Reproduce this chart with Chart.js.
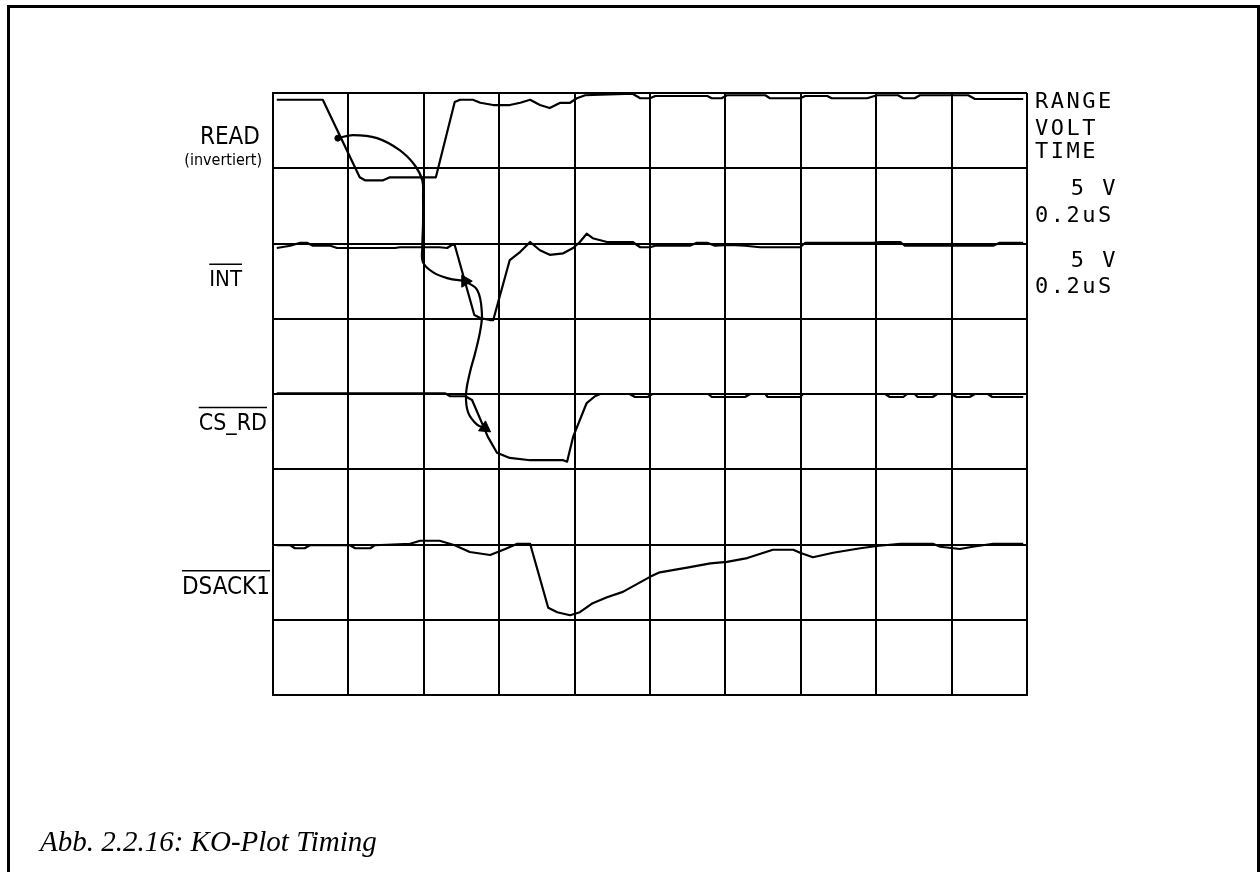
<!DOCTYPE html>
<html>
<head>
<meta charset="utf-8">
<script src="https://cdn.jsdelivr.net/npm/chart.js@4.4.1/dist/chart.umd.min.js"></script>
<style>
  html, body { margin: 0; padding: 0; background: #fff; }
  #wrap { position: relative; width: 1260px; height: 872px; overflow: hidden; }
  #frame {
    position: absolute; left: 7px; top: 5px; width: 1247px; height: 900px;
    border-left: 3px solid #000; border-top: 3px solid #000; border-right: 3px solid #000;
    pointer-events: none;
  }
</style>
</head>
<body>
<div id="wrap">
  <canvas id="scopeChart" width="1260" height="872"></canvas>
  <div id="frame"></div>
</div>
<script>
// grid: 10 x 8 divisions, values in divisions
const readX = [0.05, 0.66, 1.15, 1.22, 1.46, 1.55, 2.16, 2.41, 2.48, 2.65, 2.75, 2.92, 3.14, 3.28, 3.41, 3.54, 3.67, 3.81, 3.94, 4.03, 4.14, 4.77, 4.87, 5.00, 5.07, 5.76, 5.82, 5.95, 6.02, 6.53, 6.59, 6.99, 7.06, 7.35, 7.41, 7.88, 8.01, 8.29, 8.36, 8.51, 8.58, 9.22, 9.31, 9.95];
const readY = [7.91, 7.91, 6.88, 6.84, 6.84, 6.88, 6.88, 7.88, 7.91, 7.91, 7.87, 7.84, 7.84, 7.87, 7.91, 7.84, 7.80, 7.87, 7.87, 7.93, 7.97, 7.99, 7.93, 7.93, 7.96, 7.96, 7.93, 7.93, 7.97, 7.97, 7.93, 7.93, 7.96, 7.96, 7.93, 7.93, 7.97, 7.97, 7.93, 7.93, 7.97, 7.97, 7.92, 7.92];

const intX = [0.05, 0.23, 0.36, 0.45, 0.53, 0.76, 0.85, 1.62, 1.68, 2.21, 2.31, 2.37, 2.41, 2.67, 2.75, 2.89, 2.92, 3.14, 3.28, 3.41, 3.54, 3.67, 3.85, 3.98, 4.07, 4.16, 4.24, 4.43, 4.77, 4.87, 5.00, 5.07, 5.53, 5.62, 5.76, 5.86, 6.06, 6.26, 6.46, 6.99, 7.06, 7.96, 8.05, 8.32, 8.38, 9.55, 9.64, 9.95];
const intY = [5.94, 5.97, 6.01, 6.01, 5.97, 5.97, 5.94, 5.94, 5.95, 5.95, 5.94, 5.98, 5.98, 5.05, 5.01, 4.98, 4.98, 5.78, 5.89, 6.02, 5.91, 5.85, 5.87, 5.94, 6.02, 6.13, 6.07, 6.02, 6.02, 5.95, 5.95, 5.97, 5.97, 6.01, 6.01, 5.97, 5.98, 5.97, 5.95, 5.95, 6.01, 6.01, 6.02, 6.02, 5.97, 5.97, 6.01, 6.01];

const csrdX = [0.05, 2.28, 2.35, 2.55, 2.64, 2.85, 2.97, 3.14, 3.41, 3.85, 3.90, 3.98, 4.16, 4.27, 4.34, 4.73, 4.80, 4.97, 5.03, 5.77, 5.82, 6.26, 6.33, 6.53, 6.56, 6.99, 7.03, 8.12, 8.18, 8.36, 8.41, 8.51, 8.55, 8.75, 8.81, 8.99, 9.07, 9.24, 9.31, 9.48, 9.54, 9.95];
const csrdY = [4.01, 4.01, 3.97, 3.97, 3.92, 3.43, 3.22, 3.15, 3.12, 3.12, 3.10, 3.43, 3.88, 3.97, 4.00, 4.00, 3.96, 3.96, 4.00, 4.00, 3.96, 3.96, 4.00, 4.00, 3.96, 3.96, 4.00, 4.00, 3.96, 3.96, 4.00, 4.00, 3.96, 3.96, 4.00, 4.00, 3.96, 3.96, 4.00, 4.00, 3.96, 3.96];

const dsackX = [0.05, 0.23, 0.29, 0.42, 0.49, 1.02, 1.09, 1.29, 1.35, 1.82, 1.95, 2.21, 2.41, 2.61, 2.88, 3.08, 3.24, 3.41, 3.65, 3.77, 3.94, 4.07, 4.24, 4.43, 4.64, 5.00, 5.13, 5.53, 5.80, 6.02, 6.29, 6.63, 6.90, 6.99, 7.16, 7.43, 7.79, 8.01, 8.32, 8.75, 8.85, 9.11, 9.28, 9.55, 9.95];
const dsackY = [1.99, 1.99, 1.95, 1.95, 1.99, 1.99, 1.95, 1.95, 1.99, 2.01, 2.05, 2.05, 1.99, 1.90, 1.86, 1.94, 2.01, 2.01, 1.16, 1.10, 1.06, 1.10, 1.22, 1.30, 1.37, 1.57, 1.63, 1.70, 1.75, 1.77, 1.82, 1.93, 1.93, 1.89, 1.83, 1.89, 1.95, 1.98, 2.01, 2.01, 1.97, 1.94, 1.97, 2.01, 2.01];

// hand-drawn arrows: READ -> INT -> CS_RD
const arrow1X = [0.86, 1.06, 1.38, 1.68, 1.88, 1.98, 1.99, 1.99, 1.98, 1.99, 2.12, 2.31, 2.55];
const arrow1Y = [7.40, 7.44, 7.40, 7.24, 7.04, 6.84, 6.62, 6.27, 5.95, 5.75, 5.62, 5.54, 5.50];
const arrow2X = [2.55, 2.71, 2.77, 2.75, 2.68, 2.61, 2.56, 2.59, 2.71, 2.81];
const arrow2Y = [5.50, 5.38, 5.08, 4.85, 4.54, 4.28, 3.99, 3.75, 3.59, 3.55];

const channelLabels = ['READ', 'INT', 'CS_RD', 'DSACK1'];
const rangeText = ['RANGE', 'VOLT', 'TIME'];
const rangeValues = ['5 V', '0.2uS', '5 V', '0.2uS'];
const caption = 'Abb. 2.2.16: KO-Plot Timing';

function pts(xs, ys) {
    return xs.map((x, i) => ({ x: x, y: ys[i] }));
}

function trace(xs, ys) {
    return {
        data: pts(xs, ys),
        borderColor: '#000',
        borderWidth: 2.2,
        borderJoinStyle: 'round',
        pointRadius: 0,
        tension: 0,
        fill: false
    };
}

function arrow(xs, ys, rot, startDot) {
    const last = xs.length - 1;
    return {
        data: pts(xs, ys),
        borderColor: '#000',
        backgroundColor: '#000',
        borderWidth: 2.2,
        tension: 0.4,
        fill: false,
        pointStyle: ctx => ctx.dataIndex === last ? 'triangle' : 'circle',
        pointRadius: ctx => ctx.dataIndex === last ? 7 : (startDot && ctx.dataIndex === 0 ? 3 : 0),
        pointRotation: ctx => ctx.dataIndex === last ? rot : 0,
        pointBorderWidth: 1
    };
}

const textPlugin = {
    id: 'scopeText',
    afterDraw(chart) {
        const c = chart.ctx;
        c.save();
        c.fillStyle = '#000';
        c.strokeStyle = '#000';
        c.textBaseline = 'alphabetic';

        // channel labels, left of the grid
        const hand = '"Liberation Sans Narrow", "DejaVu Sans Condensed", sans-serif';
        c.textAlign = 'right';
        c.font = '24px ' + hand;
        c.fillText(channelLabels[0], 260, 144);
        c.font = '16px ' + hand;
        c.fillText('(invertiert)', 262, 165);

        const over = [
            { t: channelLabels[1], x: 242, y: 286, size: 22 },
            { t: channelLabels[2], x: 267, y: 430, size: 23 },
            { t: channelLabels[3], x: 270, y: 594, size: 24 }
        ];
        c.lineWidth = 1.5;
        over.forEach(o => {
            c.font = o.size + 'px ' + hand;
            c.fillText(o.t, o.x, o.y);
            const w = c.measureText(o.t).width;
            const top = o.y - o.size * 0.72 - 6;
            c.beginPath();
            c.moveTo(o.x - w, top);
            c.lineTo(o.x, top);
            c.stroke();
        });

        // range block, right of the grid
        c.textAlign = 'left';
        c.font = '22px "DejaVu Sans Mono", monospace';
        c.letterSpacing = '2.5px';
        const rx = chart.chartArea.right + 8;
        c.fillText(rangeText[0], rx, 108);
        c.fillText(rangeText[1], rx, 135);
        c.fillText(rangeText[2], rx, 158);
        c.textAlign = 'right';
        c.fillText(rangeValues[0], 1118, 195);
        c.fillText(rangeValues[2], 1118, 267);
        c.textAlign = 'left';
        c.fillText(rangeValues[1], rx, 222);
        c.fillText(rangeValues[3], rx, 293);
        c.letterSpacing = '0px';

        // caption
        c.font = 'italic 29px "Liberation Serif", "Times New Roman", serif';
        c.fillText(caption, 40, 851);
        c.restore();
    }
};

const gridOpts = {
    color: '#000',
    lineWidth: 2,
    drawTicks: false
};

new Chart(document.getElementById('scopeChart').getContext('2d'), {
    type: 'line',
    data: {
        datasets: [
            trace(readX, readY),
            trace(intX, intY),
            trace(csrdX, csrdY),
            trace(dsackX, dsackY),
            arrow(arrow1X, arrow1Y, 90, true),
            arrow(arrow2X, arrow2Y, 125, false)
        ]
    },
    options: {
        responsive: false,
        animation: false,
        devicePixelRatio: 1,
        layout: { padding: { left: 273, right: 233, top: 93, bottom: 177 } },
        plugins: {
            legend: { display: false },
            tooltip: { enabled: false }
        },
        scales: {
            x: {
                type: 'linear',
                min: 0,
                max: 10,
                ticks: { display: false, stepSize: 1 },
                grid: gridOpts,
                border: { display: true, color: '#000', width: 2 }
            },
            y: {
                type: 'linear',
                min: 0,
                max: 8,
                ticks: { display: false, stepSize: 1 },
                grid: gridOpts,
                border: { display: true, color: '#000', width: 2 }
            }
        }
    },
    plugins: [textPlugin]
});
</script>
</body>
</html>
